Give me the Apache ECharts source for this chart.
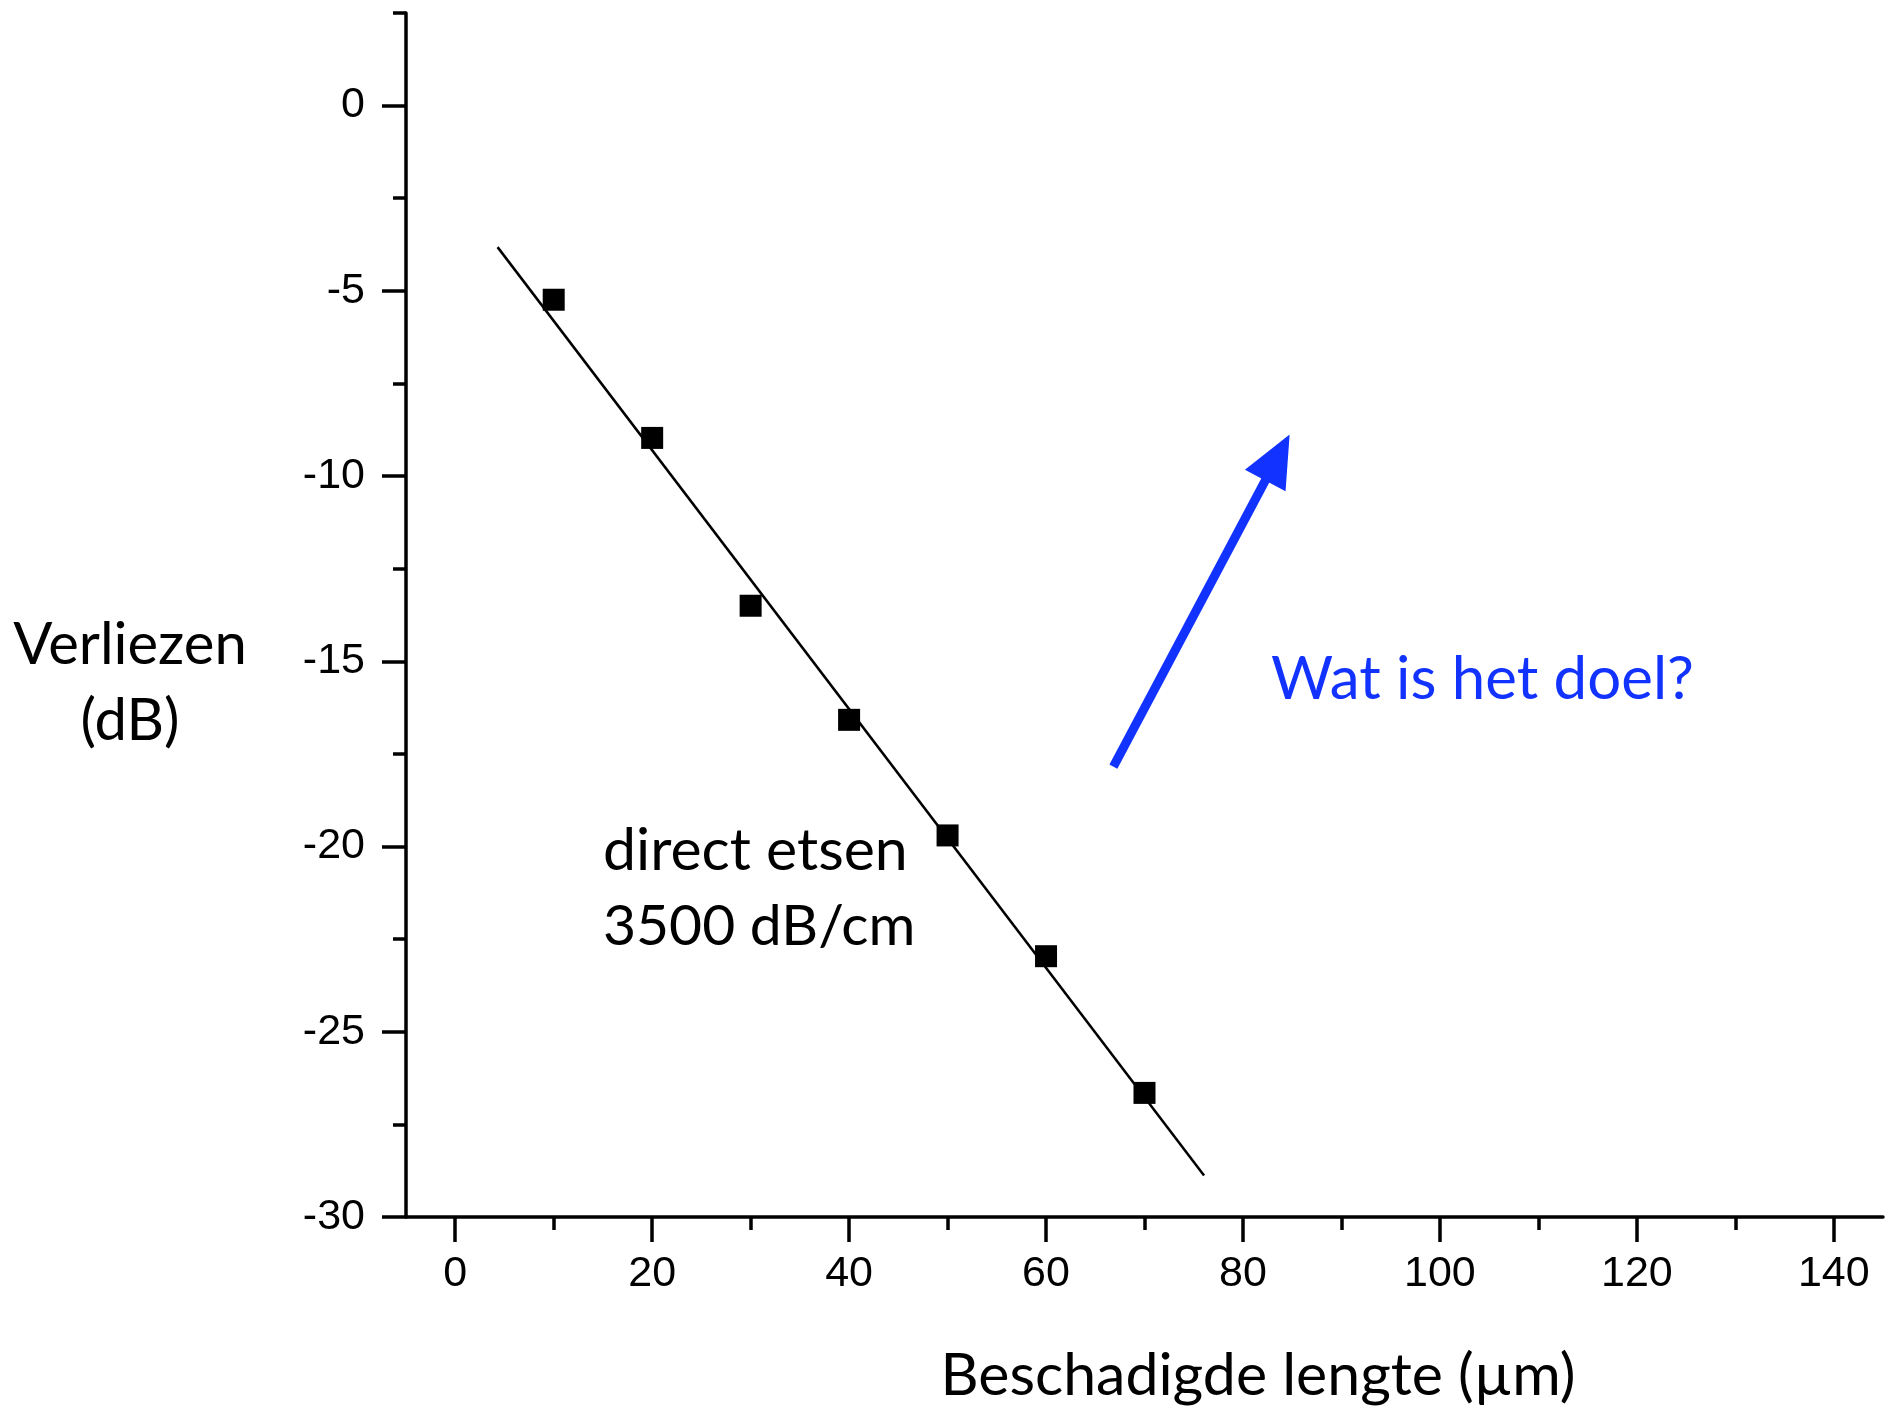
<!DOCTYPE html>
<html>
<head>
<meta charset="utf-8">
<script src="https://cdn.jsdelivr.net/npm/echarts@6/dist/echarts.min.js"></script>
<style>
  html, body { margin: 0; padding: 0; background: #fff; }
  #chart { width: 1896px; height: 1410px; }
</style>
</head>
<body>
<div id="chart"></div>
<script>
// ---- data ----
const lengthX = [10, 20, 30, 40, 50, 60, 70];
const lossY = [-5.24, -8.97, -13.50, -16.58, -19.70, -22.96, -26.65];

// linear fit (3500 dB/cm) drawn as a straight line
const fitX = [4.3, 76.05];
const fitY = [-3.82, -28.88];

// annotation arrow (start, head)
const arrowX = [66.84, 83.5];
const arrowY = [-17.84, -9.5];

const xMajorTicks = [0, 20, 40, 60, 80, 100, 120, 140];
const xMinorTicks = [10, 30, 50, 70, 90, 110, 130];
const yMajorTicks = [-30, -25, -20, -15, -10, -5, 0];
const yMinorTicks = [-27.5, -22.5, -17.5, -12.5, -7.5, -2.5, 2.5];

const xTitle = 'Beschadigde lengte (µm)';
const yTitle = ['Verliezen', '(dB)'];
const noteLines = ['direct etsen', '3500 dB/cm'];
const goalText = 'Wat is het doel?';

// ---- chart ----
const chart = echarts.init(document.getElementById('chart'), null, { renderer: 'canvas' });
const tickFont = { fontFamily: 'Liberation Sans, Arial, sans-serif', fontSize: 43, color: '#000' };
const titleFont = 'Lato, "Open Sans", sans-serif';
const blue = '#1132FF';

const option = {
  animation: false,
  backgroundColor: '#fff',
  grid: { left: 406, right: 13, top: 13, bottom: 193, containLabel: false },
  xAxis: [
    {
      type: 'value', min: -5, max: 145, position: 'bottom',
      axisLine: { show: true, onZero: false, lineStyle: { color: '#000', width: 3.5 } },
      axisTick: { show: true, length: 25, lineStyle: { color: '#000', width: 3.5 }, customValues: xMajorTicks },
      axisLabel: Object.assign({ show: true, margin: 36, customValues: xMajorTicks }, tickFont),
      splitLine: { show: false }
    },
    {
      type: 'value', min: -5, max: 145, position: 'bottom', offset: 0,
      axisLine: { show: false, onZero: false },
      axisTick: { show: true, length: 13, lineStyle: { color: '#000', width: 3.5 }, customValues: xMinorTicks },
      axisLabel: { show: false },
      splitLine: { show: false }
    }
  ],
  yAxis: [
    {
      type: 'value', min: -30, max: 2.5, position: 'left',
      axisLine: { show: true, onZero: false, lineStyle: { color: '#000', width: 3.5 } },
      axisTick: { show: true, length: 24, lineStyle: { color: '#000', width: 3.5 }, customValues: yMajorTicks },
      axisLabel: Object.assign({ show: true, margin: 41, customValues: yMajorTicks }, tickFont),
      splitLine: { show: false }
    },
    {
      type: 'value', min: -30, max: 2.5, position: 'left', offset: 0,
      axisLine: { show: false, onZero: false },
      axisTick: { show: true, length: 13, lineStyle: { color: '#000', width: 3.5 }, customValues: yMinorTicks },
      axisLabel: { show: false },
      splitLine: { show: false }
    }
  ],
  series: [
    {
      type: 'line',
      xAxisIndex: 0, yAxisIndex: 0,
      data: fitX.map((x, i) => [x, fitY[i]]),
      showSymbol: false, symbol: 'none',
      lineStyle: { color: '#000', width: 2.5 },
      silent: true, z: 2
    },
    {
      type: 'scatter',
      xAxisIndex: 0, yAxisIndex: 0,
      data: lengthX.map((x, i) => [x, lossY[i]]),
      symbol: 'rect', symbolSize: 22,
      itemStyle: { color: '#000', opacity: 1 },
      silent: true, z: 3
    },
    {
      type: 'scatter',
      xAxisIndex: 0, yAxisIndex: 0,
      data: [],
      silent: true,
      markLine: {
        silent: true,
        animation: false,
        symbol: ['none', 'triangle'],
        symbolSize: [46, 52],
        label: { show: false },
        lineStyle: { color: blue, width: 9, type: 'solid', opacity: 1 },
        itemStyle: { color: blue },
        data: [[{ coord: [arrowX[0], arrowY[0]] }, { coord: [arrowX[1], arrowY[1]] }]]
      }
    }
  ],
  graphic: [
    { type: 'text', x: 130, y: 645, style: { text: yTitle[0], font: '58px ' + titleFont, fill: '#000', align: 'center', verticalAlign: 'middle' } },
    { type: 'text', x: 130, y: 721, style: { text: yTitle[1], font: '58px ' + titleFont, fill: '#000', align: 'center', verticalAlign: 'middle' } },
    { type: 'text', x: 1258, y: 1376, style: { text: xTitle, font: '59px ' + titleFont, fill: '#000', align: 'center', verticalAlign: 'middle' } },
    { type: 'text', x: 603, y: 851, style: { text: noteLines[0], font: '59px ' + titleFont, fill: '#000', align: 'left', verticalAlign: 'middle' } },
    { type: 'text', x: 603, y: 927, style: { text: noteLines[1], font: '57px ' + titleFont, fill: '#000', align: 'left', verticalAlign: 'middle' } },
    { type: 'text', x: 1271, y: 680, style: { text: goalText, font: '60px ' + titleFont, fill: blue, align: 'left', verticalAlign: 'middle' } }
  ]
};
chart.setOption(option);
</script>
</body>
</html>
